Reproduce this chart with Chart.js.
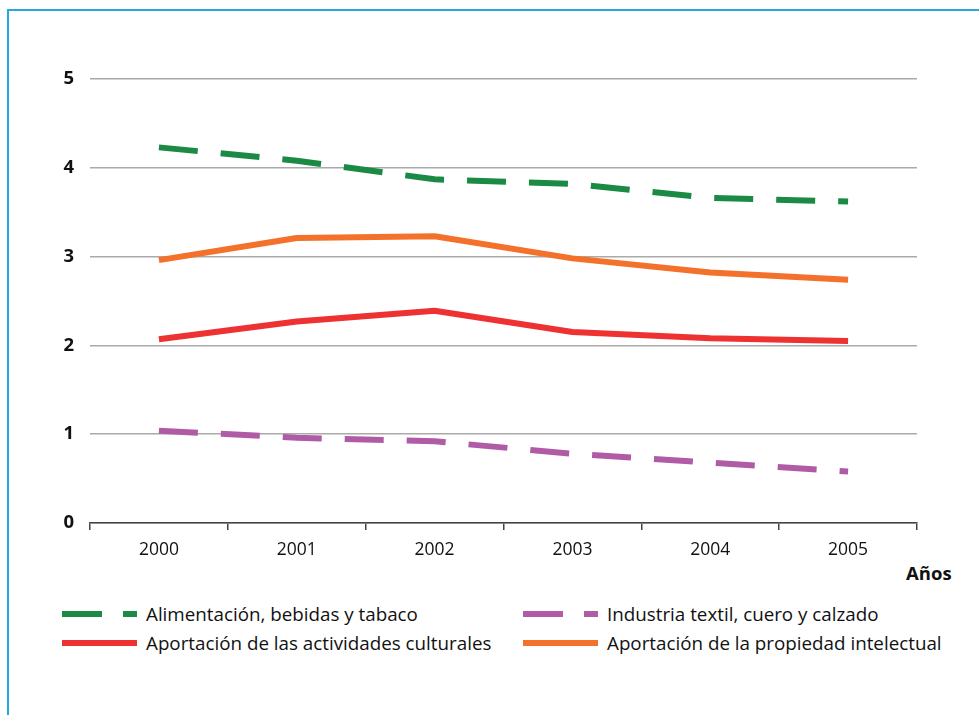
<!DOCTYPE html>
<html>
<head>
<meta charset="utf-8">
<script src="https://cdn.jsdelivr.net/npm/chart.js@4.4.0/dist/chart.umd.min.js"></script>
<style>
	body{margin:0;background:#fff;width:979px;height:715px;overflow:hidden;position:relative;font-family:"Open Sans",sans-serif;color:#111;}
	#frame{position:absolute;left:7px;top:9px;width:1000px;height:800px;border-left:2px solid #23a8e2;border-top:2px solid #23a8e2;}
	#chart{position:absolute;left:0;top:0;}
	#anos{position:absolute;left:906px;top:561px;font-weight:bold;font-size:18.5px;line-height:23px;}
	.item{position:absolute;height:24px;display:flex;align-items:center;font-size:18.8px;white-space:nowrap;}
	.item svg{margin-right:9px;}
</style>
</head>
<body>
<div id="frame"></div>
<canvas id="chart" width="979" height="560"></canvas>
<div id="anos">Años</div>
<div id="legend"></div>
<script>
	var years = ['2000', '2001', '2002', '2003', '2004', '2005'];
	var yTicks = [0, 1, 2, 3, 4, 5];

	var alimentacion = [4.23, 4.08, 3.87, 3.82, 3.66, 3.62];
	var textil = [1.04, 0.96, 0.92, 0.78, 0.68, 0.58];
	var culturales = [2.07, 2.27, 2.39, 2.15, 2.08, 2.05];
	var intelectual = [2.96, 3.21, 3.23, 2.98, 2.82, 2.74];

	var names = ['Alimentación, bebidas y tabaco', 'Industria textil, cuero y calzado',
		'Aportación de las actividades culturales', 'Aportación de la propiedad intelectual'];
	var colors = ['#1a8a44', '#b05ba6', '#ee3131', '#f3712b'];
	var dashed = [true, true, false, false];
	var values = [alimentacion, textil, culturales, intelectual];

	var datasets = [];
	for(var i=0;i<values.length;i++){
		datasets.push({
			label: names[i],
			data: values[i],
			borderColor: colors[i],
			backgroundColor: colors[i],
			borderWidth: 6,
			borderDash: dashed[i] ? [39, 23] : [],
			borderCapStyle: 'butt',
			borderJoinStyle: 'round',
			pointRadius: 0,
			tension: 0,
			fill: false
		});
	}

	new Chart(document.getElementById('chart'), {
		type: 'line',
		data: {labels: years, datasets: datasets},
		options: {
			responsive: false,
			animation: false,
			devicePixelRatio: 1,
			layout: {padding: {top: 79, right: 62, left: 0, bottom: 0}},
			plugins: {legend: {display: false}, tooltip: {enabled: false}},
			scales: {
				x: {
					offset: true,
					afterFit: function(s){ s.height = 37; },
					grid: {offset: true, drawOnChartArea: false, drawTicks: true, tickLength: 7, color: '#444', lineWidth: 1.5},
					border: {display: true, color: '#444', width: 1.5},
					ticks: {color: '#111', padding: 10, font: {family: 'Open Sans', size: 17.5}}
				},
				y: {
					min: 0,
					max: 5,
					afterFit: function(s){ s.width = 90; },
					afterBuildTicks: function(s){ s.ticks = yTicks.map(function(v){ return {value: v}; }); },
					grid: {drawTicks: false, color: '#aaa', lineWidth: 1.5},
					border: {display: false},
					ticks: {color: '#111', padding: 16, font: {family: 'Open Sans', size: 18.5, weight: 'bold'}}
				}
			}
		}
	});

	// legend, two columns
	var legendPos = [[62, 602], [523, 602], [62, 631], [523, 631]];
	var legend = document.getElementById('legend');
	for(var i=0;i<names.length;i++){
		var d = document.createElement('div');
		d.className = 'item';
		d.style.left = legendPos[i][0] + 'px';
		d.style.top = legendPos[i][1] + 'px';
		var dash = dashed[i] ? ' stroke-dasharray="40 21"' : '';
		d.innerHTML = '<svg width="75" height="8"><line x1="0" y1="4" x2="75" y2="4" stroke="' + colors[i] +
			'" stroke-width="6"' + dash + '/></svg><span>' + names[i] + '</span>';
		legend.appendChild(d);
	}
</script>
</body>
</html>
